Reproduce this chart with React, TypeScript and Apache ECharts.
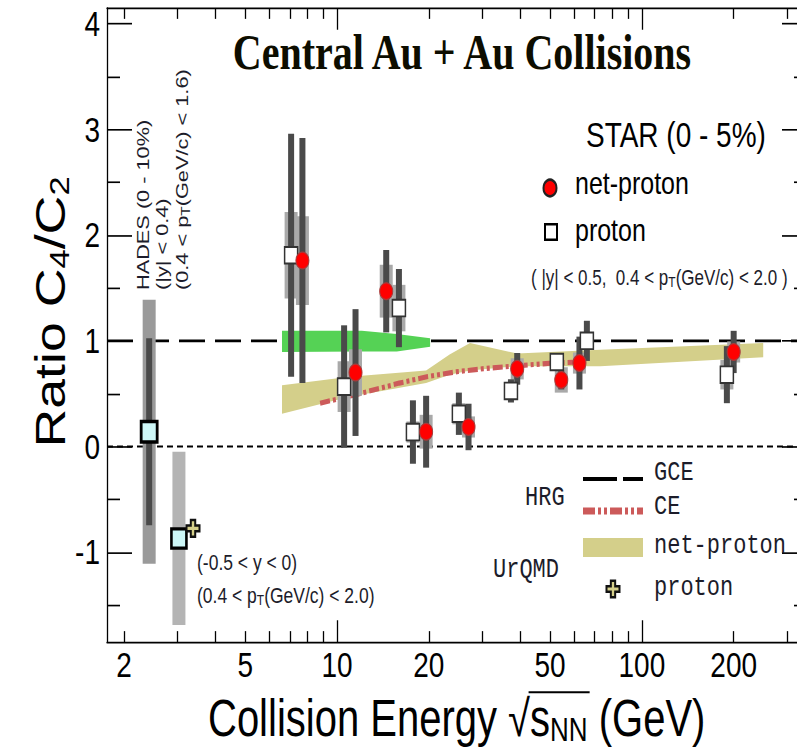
import React, { useEffect, useRef } from 'react';
import * as echarts from 'echarts';

// ---------- layout constants (the reference picture is stretched vertically) ----------
const CW = 810;
const CH = 588;
const S = 752 / CH;

// ---------- axes ----------
const xMin = 1.76;
const xMax = 348;
const yMin = -1.85;
const yMax = 4.15;
const xMajorTicks = [10, 100];
const xMinorTicks = [2, 3, 4, 5, 6, 7, 8, 9, 20, 30, 40, 50, 60, 70, 80, 90, 200, 300];
const xTickLabels = [2, 5, 10, 20, 50, 100, 200];
const yMajorTicks = [-1, 0, 1, 2, 3, 4];
const yMinorTicks = [-1.5, -0.5, 0.5, 1.5, 2.5, 3.5];

// ---------- STAR BES (0-5%) ----------
const starEnergies = [7.7, 11.5, 14.5, 19.6, 27, 39, 54.4, 62.4, 200];
const netProtonC4C2 = [1.76, 0.7, 1.47, 0.14, 0.185, 0.735, 0.63, 0.79, 0.895];
const netProtonStat = [1.16, 0.6, 0.39, 0.34, 0.22, 0.15, 0.09, 0.25, 0.2];
const netProtonSys = [0.42, 0.22, 0.25, 0.16, 0.1, 0.1, 0.12, 0.1, 0.1];

const protonEnergyShown = [7.07, 10.55, 15.96, 17.74, 25.1, 37.2, 52.6, 66.0, 190];
const protonC4C2 = [1.81, 0.567, 1.31, 0.137, 0.31, 0.526, 0.8, 1.0, 0.68];
const protonStat = [1.15, 0.58, 0.37, 0.3, 0.2, 0.11, 0.05, 0.19, 0.27];
const protonSys = [0.41, 0.24, 0.22, 0.1, 0.1, 0.06, 0.05, 0.06, 0.14];

// ---------- HADES (0-10%) and STAR FXT 3 GeV ----------
const hadesEnergy = [2.42];
const hadesC4C2 = [0.14];
const hadesStat = [0.885];
const hadesSys = [1.25];

const fxtEnergy = [3.03];
const fxtC4C2 = [-0.87];
const fxtSys = [0.82];

// ---------- models ----------
const gceLevel = 1;
const zeroLevel = 0;

const ceEnergy = [8.8, 11.5, 16, 19.7, 25, 31, 51, 62.4];
const ceC4C2 = [0.41, 0.49, 0.6, 0.66, 0.71, 0.74, 0.79, 0.8];

const urqmdBandEnergy = [6.6, 11, 19.6, 23.4, 27.3, 39, 73, 250];
const urqmdBandHigh = [0.58, 0.66, 0.72, 0.87, 0.98, 0.88, 0.915, 0.98];
const urqmdBandLow = [0.31, 0.47, 0.6, 0.68, 0.72, 0.76, 0.76, 0.845];

const greenBandEnergy = [6.6, 12.05, 15.7, 20.2];
const greenBandHigh = [1.095, 1.095, 1.065, 1.025];
const greenBandLow = [0.895, 0.9, 0.9, 0.945];

const urqmdProtonEnergy = [3.37];
const urqmdProtonC4C2 = [-0.775];

// ---------- styles ----------
const SANS = '"Liberation Sans", Arial, Helvetica, sans-serif';
const SERIF = '"Liberation Serif", "Times New Roman", serif';
const MONO = '"Liberation Mono", "Courier New", monospace';
const TEXT_DARK = '#1c1c2a';
const KHAKI = '#d4cf8a';
const GREEN = '#55d255';
const CE_RED = '#cc5a5a';
const CYAN = '#cdf7f7';
const CROSS_PATH = 'path://M3.3,0 H6.7 V3.3 H10 V6.7 H6.7 V10 H3.3 V6.7 H0 V3.3 H3.3 Z';

const axisLine = { color: '#000', width: 1.3 };

function xAxisDef(position: 'top' | 'bottom', major: boolean, labels: boolean) {
  return {
    type: 'log',
    logBase: 10,
    min: xMin,
    max: xMax,
    position,
    axisLine: { show: major, onZero: false, lineStyle: axisLine },
    axisTick: {
      show: true,
      inside: true,
      length: major ? 17 : 8.5,
      customValues: major ? xMajorTicks : xMinorTicks,
      lineStyle: axisLine,
    },
    minorTick: { show: false },
    splitLine: { show: false },
    axisLabel: labels
      ? {
          show: true,
          customValues: xTickLabels,
          formatter: (v: number) => String(Math.round(v)),
          fontFamily: SANS,
          fontSize: 28,
          color: '#000',
          margin: 4,
        }
      : { show: false },
  };
}

function yAxisDef(position: 'left' | 'right', major: boolean, labels: boolean) {
  return {
    type: 'value',
    min: yMin,
    max: yMax,
    position,
    axisLine: { show: major, onZero: false, lineStyle: axisLine },
    axisTick: {
      show: true,
      inside: true,
      length: major ? 25 : 13,
      customValues: major ? yMajorTicks : yMinorTicks,
      lineStyle: axisLine,
    },
    minorTick: { show: false },
    splitLine: { show: false },
    axisLabel: labels
      ? {
          show: true,
          customValues: yMajorTicks,
          formatter: (v: number) => String(v),
          fontFamily: SANS,
          fontSize: 28,
          color: '#000',
          margin: 7,
        }
      : { show: false },
  };
}

function bandSeries(xs: number[], lo: number[], hi: number[], color: string, z: number) {
  return {
    type: 'custom',
    z,
    silent: true,
    data: [[xs[0], lo[0]]],
    renderItem: (_p: any, api: any) => {
      const pts: number[][] = [];
      for (let i = 0; i < xs.length; i++) pts.push(api.coord([xs[i], hi[i]]));
      for (let i = xs.length - 1; i >= 0; i--) pts.push(api.coord([xs[i], lo[i]]));
      return { type: 'polygon', shape: { points: pts }, style: { fill: color } };
    },
  };
}

function errSeries(xs: number[], ys: number[], errs: number[], width: number, color: string, z: number) {
  return {
    type: 'custom',
    z,
    silent: true,
    data: xs.map((x, i) => [x, ys[i], errs[i]]),
    encode: { x: 0, y: 1 },
    renderItem: (_p: any, api: any) => {
      const x = api.value(0);
      const y = api.value(1);
      const e = api.value(2);
      const p1 = api.coord([x, y + e]);
      const p2 = api.coord([x, y - e]);
      return {
        type: 'rect',
        shape: { x: p1[0] - width / 2, y: p1[1], width, height: p2[1] - p1[1] },
        style: { fill: color },
      };
    },
  };
}

function pairs(xs: number[], ys: number[]) {
  return xs.map((x, i) => [x, ys[i]]);
}

function textEl(x: number, yRef: number, text: string, fontSize: number, extra: any = {}) {
  const {
    family = SANS,
    weight = 'normal',
    color = '#000',
    align = 'left',
    rotation = 0,
    rich,
    lineHeight,
  } = extra;
  const style: any = {
    text,
    fontSize,
    fontFamily: family,
    fontWeight: weight,
    fill: color,
    textAlign: align,
    textVerticalAlign: 'middle',
    align,
    verticalAlign: 'middle',
  };
  if (rich) style.rich = rich;
  if (lineHeight) style.lineHeight = lineHeight;
  return { type: 'text', x, y: yRef / S, rotation, z: 100, silent: true, style };
}

function buildOption() {
  // measure text for the overline of the square-root sign
  const ctx = document.createElement('canvas').getContext('2d') as CanvasRenderingContext2D;
  const mw = (t: string, size: number) => {
    ctx.font = `${size}px "Liberation Sans"`;
    return ctx.measureText(t).width;
  };
  ctx.font = '40px "Liberation Sans"';
  ctx.textBaseline = 'middle';
  const sqrtAsc = ctx.measureText('\u221A').actualBoundingBoxAscent || 26;
  const xLabelLeft = 208;
  const xLabelY = 718;
  const olX1 = xLabelLeft + mw('Collision Energy \u221A', 40) - 1.5;
  const olX2 = xLabelLeft + mw('Collision Energy \u221As', 40) + mw('NN', 26) + 2;
  const olY = xLabelY / S - sqrtAsc + 0.8;

  const subT = { fontSize: 12, lineHeight: 6, verticalAlign: 'bottom', fontFamily: SANS, fill: TEXT_DARK };
  const smallRich = { T: subT };

  const crossPts = (cx: number, cy: number, s: number) => {
    const a = s / 2;
    const b = s / 6;
    return [
      [cx - b, cy - a], [cx + b, cy - a], [cx + b, cy - b], [cx + a, cy - b], [cx + a, cy + b], [cx + b, cy + b],
      [cx + b, cy + a], [cx - b, cy + a], [cx - b, cy + b], [cx - a, cy + b], [cx - a, cy - b], [cx - b, cy - b],
    ];
  };

  const graphic: any[] = [
    // title
    textEl(462, 52, 'Central Au + Au Collisions', 40, { family: SERIF, weight: 'bold', align: 'center', color: '#0d0d00' }),
    // axis names
    textEl(50, 312, 'Ratio C{s|4}/C{s|2}', 42, {
      align: 'center',
      rotation: Math.PI / 2,
      lineHeight: 46,
      rich: { s: { fontSize: 27, lineHeight: 20, verticalAlign: 'bottom', fontFamily: SANS, fill: '#000' } },
    }),
    textEl(xLabelLeft, xLabelY, 'Collision Energy \u221As{s|NN} (GeV)', 40, {
      lineHeight: 44,
      rich: { s: { fontSize: 26, lineHeight: 18, verticalAlign: 'bottom', fontFamily: SANS, fill: '#000' } },
    }),
    {
      type: 'line',
      z: 100,
      silent: true,
      shape: { x1: olX1, y1: olY, x2: olX2, y2: olY },
      style: { stroke: '#000', lineWidth: 1.6 },
    },
    // STAR legend
    textEl(586, 135, 'STAR (0 - 5%)', 28),
    { type: 'circle', z: 100, silent: true, shape: { cx: 550, cy: 188 / S, r: 6.5 }, style: { fill: '#ff0000', stroke: '#222', lineWidth: 2 } },
    textEl(575, 183, 'net-proton', 25),
    { type: 'rect', z: 100, silent: true, shape: { x: 545, y: 232 / S - 6, width: 12, height: 12 }, style: { fill: '#fff', stroke: '#000', lineWidth: 2 } },
    textEl(575, 230, 'proton', 25),
    textEl(531, 277, '( |y| < 0.5,  0.4 < p{T|T}(GeV/c) < 2.0 )', 17, { color: TEXT_DARK, rich: smallRich, lineHeight: 20 }),
    // HADES labels (rotated)
    textEl(143, 290, 'HADES (0 - 10%)', 17, { rotation: Math.PI / 2, color: TEXT_DARK }),
    textEl(162, 290, '(|y| < 0.4)', 17, { rotation: Math.PI / 2, color: TEXT_DARK }),
    textEl(182, 290, '(0.4 < p{T|T}(GeV/c) < 1.6)', 17, { rotation: Math.PI / 2, color: TEXT_DARK, rich: smallRich, lineHeight: 20 }),
    // FXT labels
    textEl(197, 562, '(-0.5 < y < 0)', 17.5, { color: TEXT_DARK }),
    textEl(197, 595, '(0.4 < p{T|T}(GeV/c) < 2.0)', 17.5, { color: TEXT_DARK, rich: smallRich, lineHeight: 20 }),
    // model legend
    textEl(525, 498, 'HRG', 22, { family: MONO, color: TEXT_DARK }),
    textEl(493, 570, 'UrQMD', 22, { family: MONO, color: TEXT_DARK }),
    textEl(654, 473, 'GCE', 22, { family: MONO, color: TEXT_DARK }),
    textEl(654, 507, 'CE', 22, { family: MONO, color: TEXT_DARK }),
    textEl(654, 546, 'net-proton', 22, { family: MONO, color: TEXT_DARK }),
    textEl(654, 588, 'proton', 22, { family: MONO, color: TEXT_DARK }),
    {
      type: 'line', z: 100, silent: true,
      shape: { x1: 583, y1: 479 / S, x2: 643, y2: 479 / S },
      style: { stroke: '#000', lineWidth: 3, lineDash: [34, 6] },
    },
    {
      type: 'line', z: 100, silent: true,
      shape: { x1: 583, y1: 511 / S, x2: 643, y2: 511 / S },
      style: { stroke: CE_RED, lineWidth: 5.5, lineDash: [12, 3, 3, 3, 3, 3] },
    },
    { type: 'rect', z: 100, silent: true, shape: { x: 583, y: 538 / S, width: 60, height: 19 / S }, style: { fill: KHAKI } },
    { type: 'polygon', z: 100, silent: true, shape: { points: crossPts(613, 589 / S, 13) }, style: { fill: KHAKI, stroke: '#111', lineWidth: 2 } },
  ];

  const series: any[] = [
    // reference lines
    {
      type: 'line', z: 1, silent: true, symbol: 'none',
      data: [[xMin, gceLevel], [xMax, gceLevel]],
      lineStyle: { color: '#000', width: 2.1, type: [26, 10] },
    },
    {
      type: 'line', z: 1, silent: true, symbol: 'none',
      data: [[xMin, zeroLevel], [xMax, zeroLevel]],
      lineStyle: { color: '#000', width: 1.5, type: [6, 4] },
    },
    // model bands
    bandSeries(greenBandEnergy, greenBandLow, greenBandHigh, GREEN, 2),
    bandSeries(urqmdBandEnergy, urqmdBandLow, urqmdBandHigh, KHAKI, 2),
    {
      type: 'line', z: 3, silent: true, symbol: 'none',
      data: pairs(ceEnergy, ceC4C2),
      lineStyle: { color: CE_RED, width: 4, type: [10, 3, 3, 3, 3, 3] },
    },
    // systematic boxes
    errSeries(hadesEnergy, hadesC4C2, hadesSys, 13, '#9a9a9a', 4),
    errSeries(fxtEnergy, fxtC4C2, fxtSys, 13, '#b4b4b4', 4),
    errSeries(protonEnergyShown, protonC4C2, protonSys, 13, '#a9a9a9', 4),
    errSeries(starEnergies, netProtonC4C2, netProtonSys, 13, '#a9a9a9', 4),
    // statistical bars
    errSeries(hadesEnergy, hadesC4C2, hadesStat, 6, '#4a4a4a', 5),
    errSeries(protonEnergyShown, protonC4C2, protonStat, 6, '#4a4a4a', 5),
    errSeries(starEnergies, netProtonC4C2, netProtonStat, 6, '#4a4a4a', 5),
    // markers
    {
      type: 'scatter', z: 6, silent: true, symbol: 'rect', symbolSize: 16,
      data: pairs(hadesEnergy, hadesC4C2),
      itemStyle: { color: CYAN, borderColor: '#000', borderWidth: 2.8, opacity: 1 },
    },
    {
      type: 'scatter', z: 6, silent: true, symbol: 'rect', symbolSize: 15,
      data: pairs(fxtEnergy, fxtC4C2),
      itemStyle: { color: CYAN, borderColor: '#000', borderWidth: 2.6, opacity: 1 },
    },
    {
      type: 'scatter', z: 7, silent: true, symbol: CROSS_PATH, symbolSize: 13,
      data: pairs(urqmdProtonEnergy, urqmdProtonC4C2),
      itemStyle: { color: KHAKI, borderColor: '#111', borderWidth: 2, opacity: 1 },
    },
    {
      type: 'scatter', z: 6, silent: true, symbol: 'rect', symbolSize: 13,
      data: pairs(protonEnergyShown, protonC4C2),
      itemStyle: { color: '#fff', borderColor: '#333', borderWidth: 1.5, opacity: 1 },
    },
    {
      type: 'scatter', z: 7, silent: true, symbol: 'circle', symbolSize: 13,
      data: pairs(starEnergies, netProtonC4C2),
      itemStyle: { color: '#ff0000', borderColor: '#a83a3a', borderWidth: 1, opacity: 1 },
    },
  ];

  return {
    animation: false,
    backgroundColor: '#fff',
    grid: { left: 107, right: CW - 807, top: 8 / S, bottom: CH - 642 / S, containLabel: false },
    xAxis: [
      xAxisDef('bottom', true, true),
      xAxisDef('bottom', false, false),
      xAxisDef('top', true, false),
      xAxisDef('top', false, false),
    ],
    yAxis: [
      yAxisDef('left', true, true),
      yAxisDef('left', false, false),
      yAxisDef('right', true, false),
      yAxisDef('right', false, false),
    ],
    series,
    graphic,
  };
}

export default function App() {
  const ref = useRef<HTMLDivElement>(null);
  useEffect(() => {
    if (!ref.current) return;
    const chart = echarts.init(ref.current, null, { renderer: 'svg' });
    chart.setOption(buildOption() as any);
    return () => chart.dispose();
  }, []);
  return (
    <div
      style={{
        position: 'fixed',
        left: 0,
        top: 0,
        width: 797,
        height: 752,
        overflow: 'hidden',
        background: '#fff',
      }}
    >
      <div
        ref={ref}
        style={{
          width: CW,
          height: CH,
          transform: `scaleY(${S})`,
          transformOrigin: '0 0',
        }}
      />
    </div>
  );
}
